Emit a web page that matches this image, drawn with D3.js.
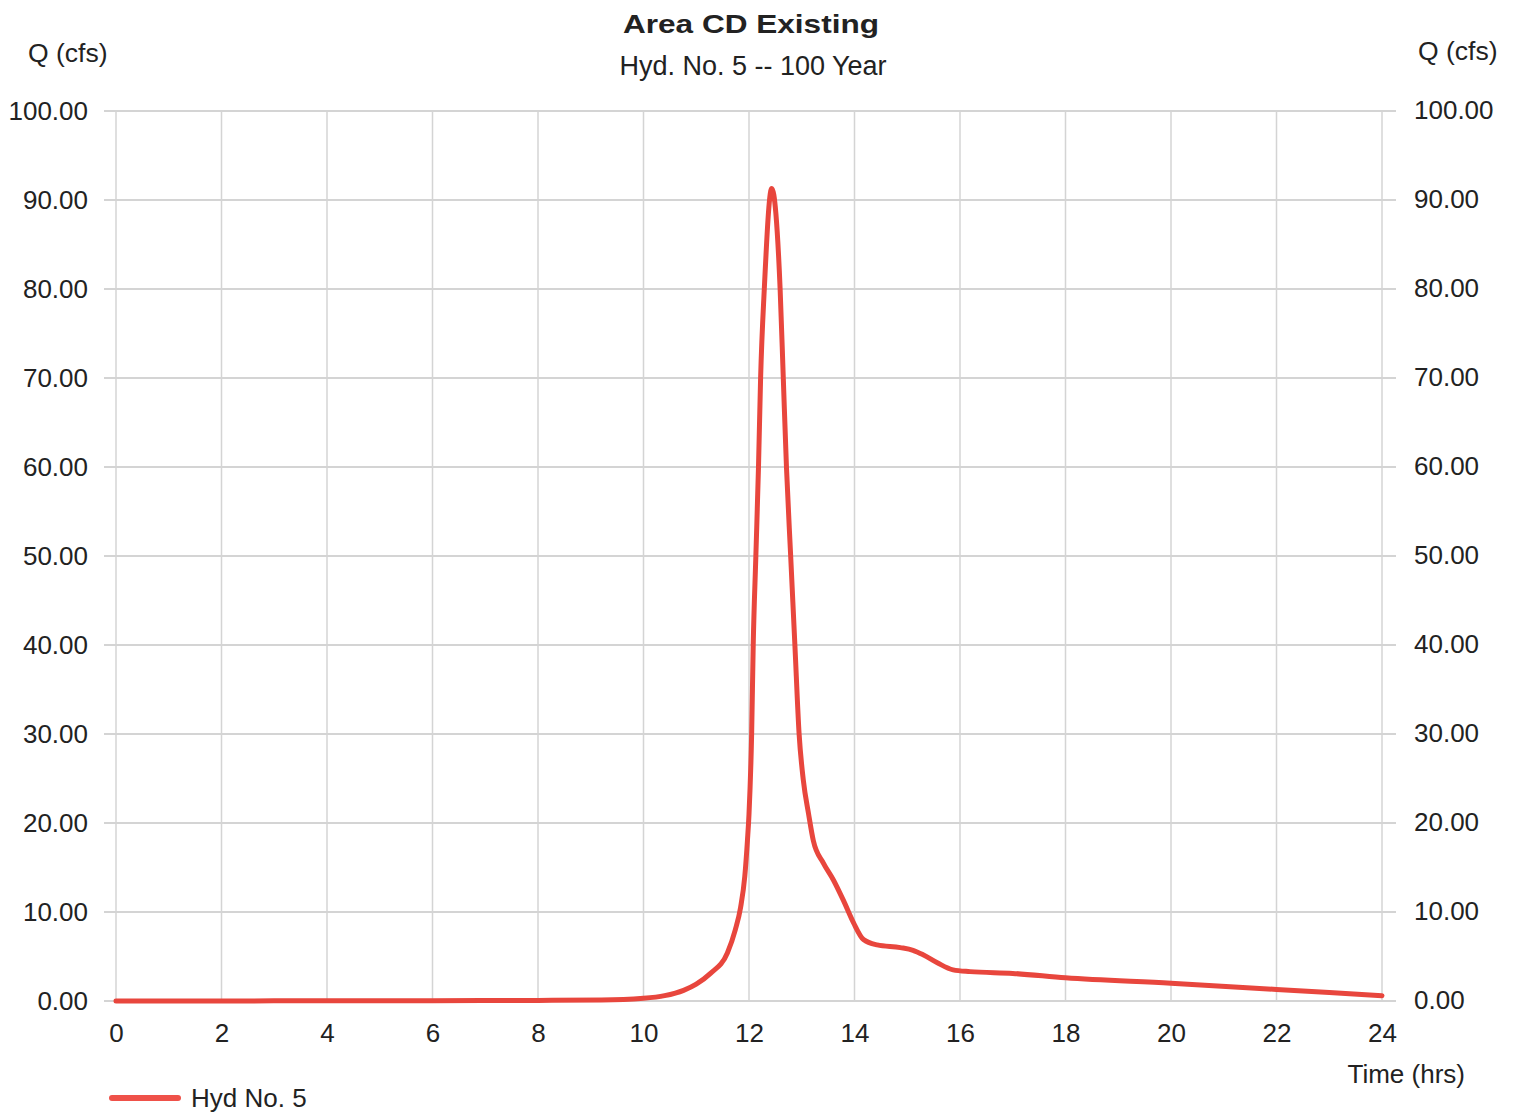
<!DOCTYPE html>
<html>
<head>
<meta charset="utf-8">
<script src="https://cdn.jsdelivr.net/npm/d3@7"></script>
<style>
  html, body { margin: 0; padding: 0; background: #ffffff; }
  svg { display: block; font-family: "Liberation Sans", Arial, sans-serif; }
</style>
</head>
<body>
<svg id="chart" width="1515" height="1112"></svg>
<script>
// Hydrograph: Area CD Existing, Hyd. No. 5, 100 year storm
const hours = [0, 2, 4, 6, 8, 9.2, 10.0, 10.4, 10.76, 11.0, 11.27, 11.59, 11.74, 11.84, 11.92, 11.97,
  12.0, 12.05, 12.08, 12.13, 12.18, 12.22, 12.29, 12.43, 12.59, 12.65, 12.71, 12.79, 12.87, 12.95,
  13.03, 13.13, 13.22, 13.41, 13.60, 13.79, 13.98, 14.17, 14.43, 14.87, 15.11, 15.30, 15.57, 15.87,
  16.19, 17.0, 18, 20, 22, 24];
const flow = [0, 0.01, 0.02, 0.04, 0.07, 0.1, 0.3, 0.6, 1.2, 1.9, 3.1, 5.4, 8.0, 10.5, 14.0, 18.0,
  21.0, 30, 40, 50, 60, 70, 80, 91.3, 80, 70, 60, 50, 40, 30,
  24.8, 21, 18, 15.5, 13.6, 11.3, 8.8, 6.9, 6.3, 6.0, 5.7, 5.2, 4.3, 3.5,
  3.3, 3.1, 2.6, 2.0, 1.3, 0.6];
const xTicks = [0, 2, 4, 6, 8, 10, 12, 14, 16, 18, 20, 22, 24];
const yTicks = [0, 10, 20, 30, 40, 50, 60, 70, 80, 90, 100];
const seriesName = "Hyd No. 5";

const svg = d3.select("#chart");
const x = d3.scaleLinear().domain([0, 24]).range([116, 1382]);
const y = d3.scaleLinear().domain([0, 100]).range([1001, 111]);
const fmt = d3.format(".2f");
const lineColor = "#e8463d";

// grid
const grid = svg.append("g");
grid.selectAll("line.h").data(yTicks).join("line")
  .attr("class", "h")
  .attr("x1", 104).attr("x2", 1396)
  .attr("y1", d => y(d)).attr("y2", d => y(d))
  .attr("stroke", "#c6c6c6").attr("stroke-width", 1.5);
grid.selectAll("line.v").data(xTicks).join("line")
  .attr("class", "v")
  .attr("x1", d => x(d)).attr("x2", d => x(d))
  .attr("y1", y(100)).attr("y2", y(0))
  .attr("stroke", "#d4d4d4").attr("stroke-width", 1.5);

// axes (labels only)
function styleAxis(g) {
  g.select(".domain").remove();
  g.selectAll(".tick line").remove();
  g.selectAll("text").attr("fill", "#222").style("font-size", "26px")
    .style("font-family", "'Liberation Sans', Arial, sans-serif");
}
svg.append("g").attr("transform", "translate(0,1001)")
  .call(d3.axisBottom(x).tickValues(xTicks).tickSize(0).tickPadding(23).tickFormat(d3.format("d")))
  .call(styleAxis);
svg.append("g").attr("transform", "translate(88,0)")
  .call(d3.axisLeft(y).tickValues(yTicks).tickSize(0).tickPadding(0).tickFormat(fmt))
  .call(styleAxis);
svg.append("g").attr("transform", "translate(1414,-1)")
  .call(d3.axisRight(y).tickValues(yTicks).tickSize(0).tickPadding(0).tickFormat(fmt))
  .call(styleAxis);

// titles
svg.append("text").attr("x", 751).attr("y", 33).attr("text-anchor", "middle")
  .attr("font-weight", "bold").attr("font-size", 26).attr("fill", "#222")
  .attr("textLength", 256).attr("lengthAdjust", "spacingAndGlyphs")
  .text("Area CD Existing");
svg.append("text").attr("x", 753).attr("y", 75).attr("text-anchor", "middle")
  .attr("font-size", 27).attr("fill", "#222").text("Hyd. No. 5 -- 100 Year");
svg.append("text").attr("x", 28).attr("y", 62).attr("font-size", 26.5).attr("fill", "#222").text("Q (cfs)");
svg.append("text").attr("x", 1418).attr("y", 60).attr("font-size", 26.5).attr("fill", "#222").text("Q (cfs)");
svg.append("text").attr("x", 1465).attr("y", 1083).attr("text-anchor", "end")
  .attr("font-size", 26).attr("fill", "#222").text("Time (hrs)");

// hydrograph line
const pts = hours.map((h, i) => [h, flow[i]]);
svg.append("path").datum(pts)
  .attr("fill", "none").attr("stroke", lineColor).attr("stroke-width", 5)
  .attr("stroke-linejoin", "round").attr("stroke-linecap", "round")
  .attr("d", d3.line().x(d => x(d[0])).y(d => y(d[1])).curve(d3.curveMonotoneX));

// legend
const lg = svg.append("g").attr("transform", "translate(112,1098)");
lg.append("line").attr("x1", 0).attr("x2", 66).attr("y1", 0).attr("y2", 0)
  .attr("stroke", "#ef5149").attr("stroke-width", 6).attr("stroke-linecap", "round");
lg.append("text").attr("x", 79).attr("y", 9).attr("font-size", 26).attr("fill", "#222").text(seriesName);
</script>
</body>
</html>
